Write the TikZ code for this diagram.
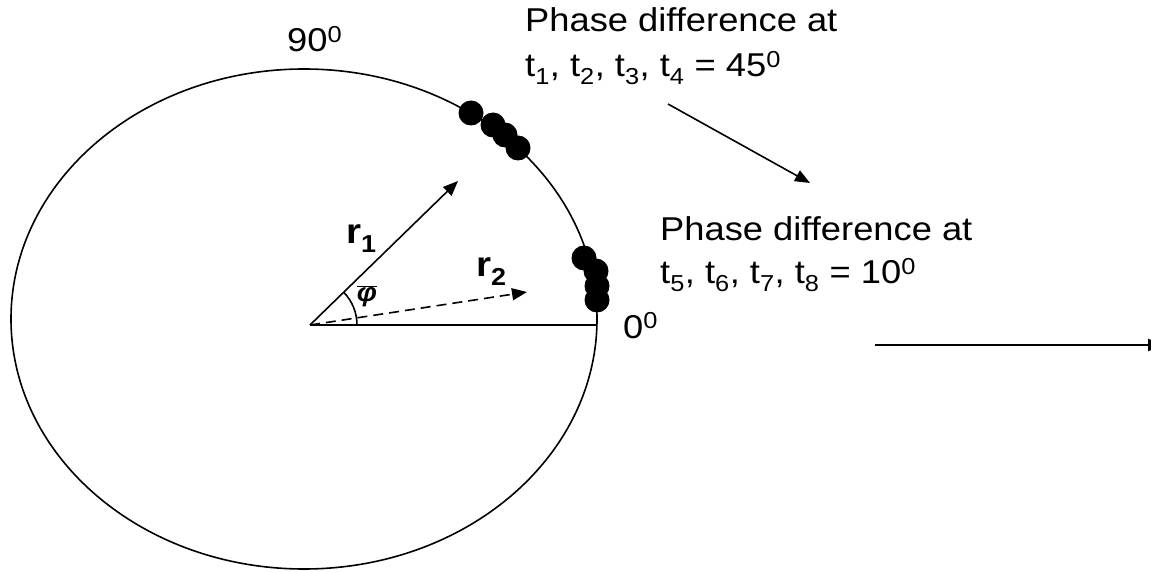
\documentclass[tikz,border=0pt]{standalone}
\usepackage{fontspec}
\setmainfont{Liberation Sans}[FakeStretch=1.1]
\usetikzlibrary{arrows.meta,positioning}
\tikzset{rim/.style={line width=1.6pt},ray/.style={-{Triangle[length=15pt,width=12pt]},line width=1.6pt},dot/.style={circle,fill=black,inner sep=0pt,minimum size=25pt},txt/.style={inner sep=0pt,anchor=base west,font=\fontsize{33}{40}\selectfont},sym/.style={inner sep=0pt,anchor=base west,font=\fontsize{35}{40}\selectfont\bfseries}}

\begin{document}
\begin{tikzpicture}[x=1pt,y=1pt]
\useasboundingbox (0,0) rectangle (1151,571);
\draw[rim] (304,252) ellipse[x radius=293,y radius=250];
\coordinate (O) at (310,246);\coordinate (zero) at (597,246);
\coordinate (tip1) at (458,390);\coordinate (tip2) at (527,279);
\draw[rim] (O) -- (zero);
\draw[ray] (O) -- (tip1);
\draw[ray,dash pattern=on 10pt off 6pt] (O) -- (tip2);
\draw[rim] ([xshift=47pt]O) arc[start angle=0,end angle=44,radius=47];
% phase points
\node[dot] (t1) at (471,458) {};\node[dot] (t2) at (493,446) {};
\node[dot] (t3) at (505,436) {};\node[dot] (t4) at (518,423) {};
\node[dot] (t5) at (584,313) {};\node[dot] (t6) at (596,300) {};
\node[dot] (t7) at (597,285) {};\node[dot] (t8) at (597,271) {};
% labels
\node[txt] (deg90) at (287,519) {90\textsuperscript{0}};
\node[txt] (deg0) at (623,233) {0\textsuperscript{0}};
\node[sym] (rone) at (346,327) {r\textsubscript{1}};
\node[sym] (rtwo) at (476,294) {r\textsubscript{2}};
\node[inner sep=0pt,font=\fontsize{26}{26}\selectfont\bfseries\itshape] (phi) at (367,275) {$\overline{\mbox{φ}}$};
\node[txt] (early1) at (525,539) {Phase difference at};
\node[txt,below=45pt of early1.base west,anchor=base west] (early2) {t\textsubscript{1}, t\textsubscript{2}, t\textsubscript{3}, t\textsubscript{4} = 45\textsuperscript{0}};
\node[txt] (late1) at (660,330) {Phase difference at};
\node[txt,below=43pt of late1.base west,anchor=base west] (late2) {t\textsubscript{5}, t\textsubscript{6}, t\textsubscript{7}, t\textsubscript{8} = 10\textsuperscript{0}};
\coordinate (from) at (668,467);\coordinate (to) at (810,388);
\draw[ray] (from) -- (to);
\coordinate (axis0) at (875,226);\coordinate (axis1) at (1163,226);
\draw[ray,line width=2.2pt] (axis0) -- (axis1);
\end{tikzpicture}
\end{document}
